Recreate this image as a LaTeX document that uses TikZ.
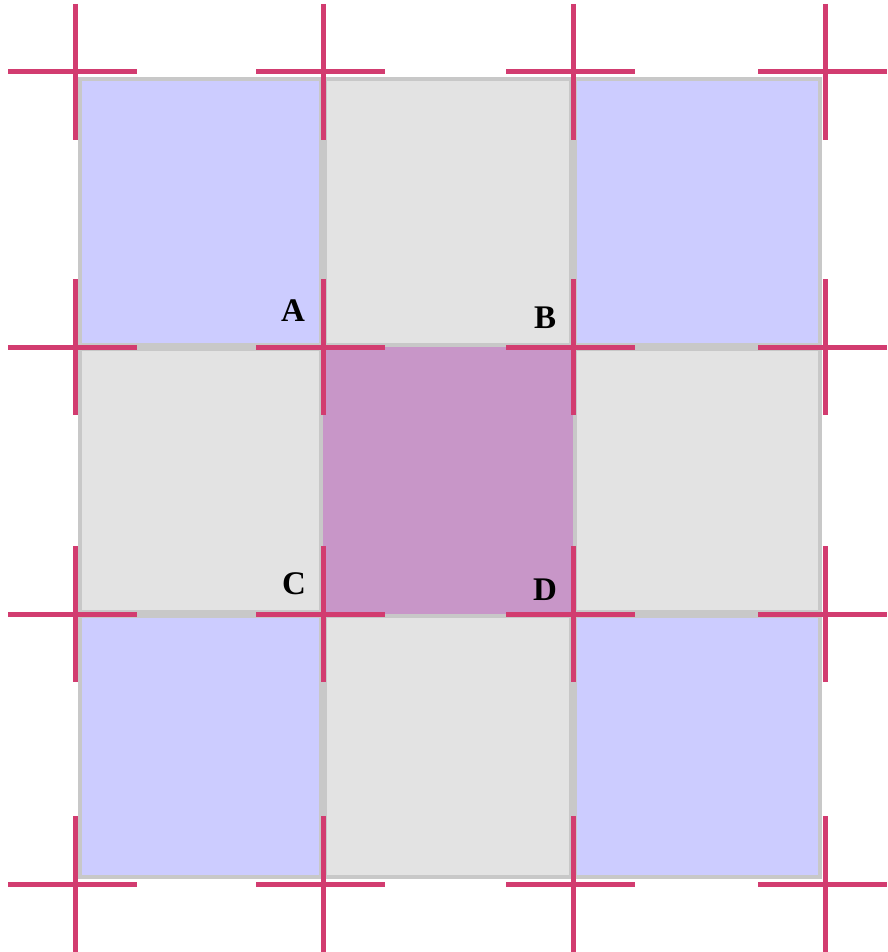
\documentclass[tikz,border=0pt]{standalone}
\usepackage{fontspec}
\setmainfont{Liberation Serif}
\usepackage{tikz}
\definecolor{cellblue}{RGB}{204,204,255}
\definecolor{cellgray}{RGB}{227,227,227}
\definecolor{cellmid}{RGB}{200,150,200}
\definecolor{rimgray}{RGB}{200,200,200}
\definecolor{crossred}{RGB}{210,60,112}

\begin{document}
\begin{tikzpicture}[x=1pt, y=-1pt,
    cell/.style={draw=rimgray, line width=4pt, fill=#1},
    cross/.style={draw=crossred, line width=5pt},
    corner/.style={font=\fontsize{33}{33}\selectfont\bfseries, inner sep=0pt},
]
\useasboundingbox (0,0) rectangle (887,952);

% --- cells (x and y bounds) ---
\foreach \xa/\xb/\ya/\yb/\col in {
    78/323/77/347/cellblue, 323/573/77/347/cellgray, 573/822/77/347/cellblue,
    78/323/347/614/cellgray, 573/822/347/614/cellgray,
    78/323/614/879/cellblue, 323/573/614/879/cellgray, 573/822/614/879/cellblue}
  \path[cell=\col] (\xa+2,\ya+2) rectangle (\xb-2,\yb-2);

% centre cell
\fill[cellmid] (323,347) rectangle (573,614);

% --- crosses at the grid points ---
\foreach \cx in {75,323,573,825}
  \foreach \cy in {72,347,614,884} {
    \draw[cross] (\cx-67,\cy) -- (\cx+62,\cy);
    \draw[cross] (\cx,\cy-68) -- (\cx,\cy+68);
  }

% --- corner labels ---
\node[corner] (lblA) at (293,311) {A};
\node[corner] (lblB) at (545,318) {B};
\node[corner] (lblC) at (294,584) {C};
\node[corner] (lblD) at (545,590) {D};

\end{tikzpicture}
\end{document}
